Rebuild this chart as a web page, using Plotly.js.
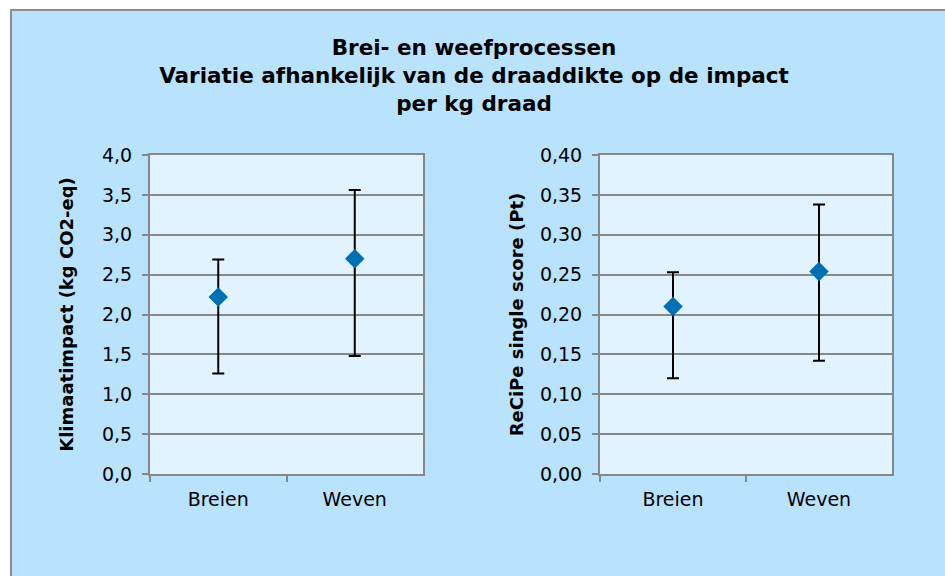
<!DOCTYPE html>
<html>
<head>
<meta charset="utf-8">
<script src="https://cdn.plot.ly/plotly-3.0.1.min.js"></script>
<style>
body { margin: 0; background: #ffffff; overflow: hidden; }
#frame {
	position: absolute; left: 10px; top: 9px;
	width: 940px; height: 572px;
	border-left: 2px solid #8c8c8c; border-top: 2px solid #8c8c8c;
	background: #b9e3fd;
}
#graph { position: absolute; left: 0; top: 0; }
</style>
</head>
<body>
<div id="frame"><div id="graph"></div></div>
<script>
// Brei- en weefprocessen: mean impact per kg yarn, with min/max over yarn thickness
var categories = ['Breien', 'Weven'];

// climate impact (kg CO2-eq)
var klimaat_mean = [2.22, 2.70];
var klimaat_max = [2.69, 3.56];
var klimaat_min = [1.26, 1.48];

// ReCiPe single score (Pt)
var recipe_mean = [0.210, 0.254];
var recipe_max = [0.253, 0.338];
var recipe_min = [0.120, 0.142];

var W = 933, H = 565;
var fnt = 'DejaVu Sans, Verdana, sans-serif';
var grey = '#878787';

function diff(a, b) {
	var res = [];
	for (var i = 0; i < a.length; i++) res.push(+(a[i] - b[i]).toFixed(4));
	return res;
}

function trace(mean, mx, mn, xa, ya) {
	return {
		x: categories,
		y: mean,
		xaxis: xa,
		yaxis: ya,
		type: 'scatter',
		mode: 'markers',
		marker: { symbol: 'diamond', size: 15, color: '#0070b4' },
		error_y: {
			type: 'data',
			symmetric: false,
			array: diff(mx, mean),
			arrayminus: diff(mean, mn),
			color: '#000000',
			thickness: 2,
			width: 6
		},
		showlegend: false,
		hoverinfo: 'x+y'
	};
}

var data = [
	trace(klimaat_mean, klimaat_max, klimaat_min, 'x', 'y'),
	trace(recipe_mean, recipe_max, recipe_min, 'x2', 'y2')
];

function xaxis(dom, anchor) {
	return {
		domain: dom,
		anchor: anchor,
		type: 'category',
		range: [-0.5, 1.5],
		tickson: 'boundaries',
		ticks: 'outside',
		ticklen: 6,
		tickwidth: 2,
		tickcolor: grey,
		ticklabelstandoff: 7,
		showline: true,
		linecolor: grey,
		linewidth: 2,
		mirror: true,
		showgrid: false,
		tickfont: { family: fnt, size: 19, color: '#000' },
		fixedrange: true
	};
}

function yaxis(dom, anchor, top, step, fmt, title, standoff) {
	return {
		domain: dom,
		anchor: anchor,
		range: [0, top],
		dtick: step,
		tickformat: fmt,
		ticks: 'outside',
		ticklen: 6,
		tickwidth: 2,
		tickcolor: grey,
		ticklabelstandoff: 6,
		showline: true,
		linecolor: grey,
		linewidth: 2,
		mirror: true,
		gridcolor: grey,
		gridwidth: 2,
		zeroline: false,
		tickfont: { family: fnt, size: 19, color: '#000' },
		title: { text: title, font: { family: fnt, size: 18, color: '#000', weight: 'bold' }, standoff: standoff },
		fixedrange: true
	};
}

var yd = [1 - 463 / H, 1 - 144 / H];

var layout = {
	width: W,
	height: H,
	paper_bgcolor: '#b9e3fd',
	plot_bgcolor: '#e1f3fe',
	separators: ',.',
	margin: { l: 0, r: 0, t: 0, b: 0 },
	title: {
		text: 'Brei- en weefprocessen<br>Variatie afhankelijk van de draaddikte op de impact<br>per kg draad',
		font: { family: fnt, size: 21.5, color: '#000', weight: 'bold' },
		x: 462 / W, xref: 'paper', xanchor: 'center',
		y: 1 - 44 / H, yref: 'paper', yanchor: 'top'
	},
	xaxis: xaxis([138 / W, 411 / W], 'y'),
	yaxis: yaxis(yd, 'x', 4, 0.5, '.1f', 'Klimaatimpact (kg CO2-eq)', 24),
	xaxis2: xaxis([588 / W, 880 / W], 'y2'),
	yaxis2: yaxis(yd, 'x2', 0.4, 0.05, '.2f', 'ReCiPe single score (Pt)', 12)
};

Plotly.newPlot('graph', data, layout, { displayModeBar: false, staticPlot: true });
</script>
</body>
</html>
